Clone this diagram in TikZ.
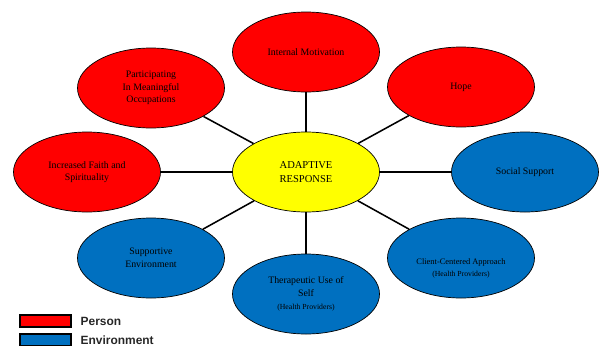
\documentclass[tikz,border=0pt]{standalone}
\usepackage{fontspec}
\setmainfont{Liberation Serif}
\setsansfont{Liberation Sans}
\usepackage{xcolor}
\usepackage{tikz}
\usetikzlibrary{shapes.geometric, positioning}
\definecolor{personred}{RGB}{255, 0, 0}
\definecolor{envblue}{RGB}{0, 112, 192}
\definecolor{responseyellow}{RGB}{255, 255, 0}

\begin{document}
\begin{tikzpicture}[
    factor/.style={ellipse, draw=black, line width=0.5pt, minimum width=3.675cm,
                   minimum height=2cm, inner sep=0pt, align=center,
                   font=\fontsize{7}{9}\selectfont},
    person/.style={factor, fill=personred},
    environment/.style={factor, fill=envblue},
    link/.style={line width=1.1pt, black},
    keybox/.style={draw=black, line width=0.8pt, minimum width=1.275cm,
                   minimum height=0.3cm, inner sep=0pt},
    keytext/.style={font=\sffamily\bfseries\fontsize{8.5}{9}\selectfont,
                    text=black!85, inner sep=0pt}
]
    \useasboundingbox (-7.65,-4.325) rectangle (7.425,4.3);

    % Centre
    \node[factor, fill=responseyellow, font=\fontsize{7.5}{9.5}\selectfont]
        (adaptive) at (0,0) {ADAPTIVE\\RESPONSE};

    % Person factors
    \node[person] (motivation) at (0,3) {Internal Motivation};
    \node[person] (hope) at (3.875,2.125) {Hope};
    \node[person] (occupations) at (-3.875,2.1) {Participating\\In Meaningful\\Occupations};
    \node[person] (faith) at (-5.475,0) {Increased Faith and\\Spirituality};

    % Environment factors
    \node[environment] (social) at (5.475,0) {Social Support};
    \node[environment] (supportive) at (-3.875,-2.15) {Supportive\\Environment};
    \node[environment, font=\fontsize{6}{8}\selectfont, text height=0.95cm]
        (clientcentered) at (3.875,-2.15)
        {Client-Centered Approach\\
         {\fontsize{5.5}{7}\selectfont (Health Providers)}};
    \node[environment] (therapeutic) at (0,-3.05)
        {Therapeutic Use of\\Self\\{\fontsize{5.5}{7}\selectfont (Health Providers)}};

    % Spokes
    \foreach \n in {motivation, hope, occupations, faith,
                    social, supportive, clientcentered, therapeutic}
        \draw[link] (adaptive) -- (\n);

    % Key
    \node[keybox, fill=personred] (personkey) at (-6.5125,-3.725) {};
    \node[keybox, fill=envblue] (envkey) at (-6.5125,-4.2) {};
    \node[keytext, right=0.22cm of personkey] (personlabel) {Person};
    \node[keytext, right=0.22cm of envkey] (envlabel) {Environment};
\end{tikzpicture}
\end{document}
